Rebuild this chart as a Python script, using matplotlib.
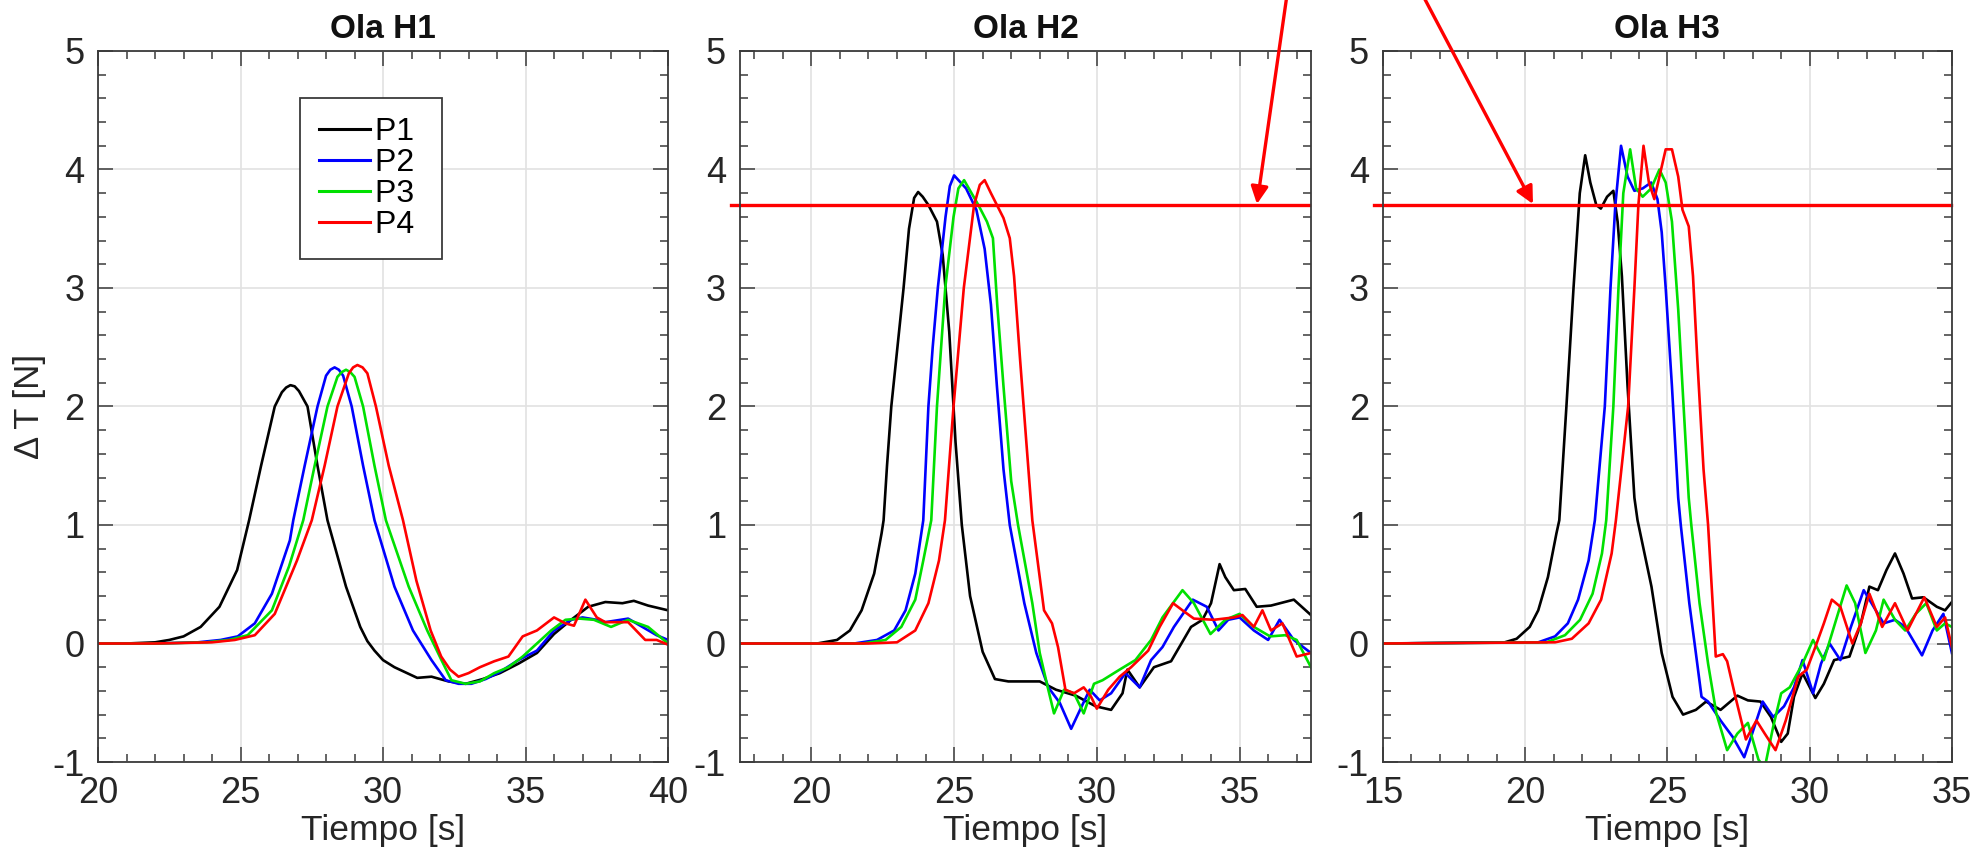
import matplotlib
matplotlib.use("Agg")
import matplotlib.pyplot as plt
import numpy as np
from matplotlib.ticker import MultipleLocator
from matplotlib.patches import FancyArrowPatch

plt.rcParams["font.family"] = ["Liberation Sans", "DejaVu Sans"]
plt.rcParams["axes.unicode_minus"] = False

# ---- data: (tiempo [s], delta T [N]) ----
h1_p1 = [(20, 0.0), (21, 0.0), (22, 0.01), (22.5, 0.03), (23.0, 0.06), (23.6, 0.14), (24.26, 0.31),
         (24.88, 0.62), (25.3, 1.04), (25.72, 1.5), (26.2, 2.0), (26.45, 2.12), (26.6, 2.16),
         (26.75, 2.18), (26.9, 2.17), (27.05, 2.13), (27.35, 2.0), (27.7, 1.5), (28.05, 1.04),
         (28.7, 0.48), (29.2, 0.14), (29.45, 0.02), (29.7, -0.06), (30.0, -0.14), (30.4, -0.2),
         (31.2, -0.29), (31.7, -0.28), (32.3, -0.32), (32.9, -0.34), (33.5, -0.3), (34.1, -0.25),
         (34.75, -0.17), (35.4, -0.08), (36.0, 0.08), (36.6, 0.2), (37.2, 0.31), (37.8, 0.35),
         (38.4, 0.34), (38.8, 0.36), (39.3, 0.32), (40, 0.28)]
h1_p2 = [(20, 0.0), (22, 0.0), (23.5, 0.01), (24.3, 0.03), (24.9, 0.06), (25.5, 0.17), (26.1, 0.42),
         (26.73, 0.87), (26.85, 1.04), (27.25, 1.5), (27.7, 2.0), (28.0, 2.26), (28.15, 2.31),
         (28.3, 2.33), (28.45, 2.31), (28.6, 2.26), (28.9, 2.0), (29.3, 1.5), (29.7, 1.04),
         (30.4, 0.48), (31.05, 0.11), (31.7, -0.14), (32.2, -0.31), (32.65, -0.34), (33.1, -0.34),
         (33.6, -0.3), (34.1, -0.24), (34.75, -0.14), (35.4, -0.06), (36.0, 0.11), (36.6, 0.2),
         (37.0, 0.22), (37.5, 0.2), (37.8, 0.18), (38.6, 0.21), (39.1, 0.14), (39.6, 0.07), (40, 0.03)]
h1_p3 = [(20, 0.0), (22, 0.0), (23.8, 0.01), (24.6, 0.03), (25.25, 0.07), (26.1, 0.28), (26.7, 0.65),
         (27.2, 1.04), (27.6, 1.5), (28.05, 2.0), (28.4, 2.25), (28.55, 2.29), (28.7, 2.31),
         (28.85, 2.29), (29.0, 2.25), (29.3, 2.0), (29.7, 1.5), (30.1, 1.04), (30.9, 0.48),
         (31.55, 0.11), (32.05, -0.14), (32.4, -0.31), (32.9, -0.34), (33.4, -0.32), (33.9, -0.25),
         (34.4, -0.2), (34.9, -0.11), (35.4, 0.0), (35.9, 0.11), (36.4, 0.2), (36.9, 0.21),
         (37.4, 0.2), (38.0, 0.14), (38.6, 0.2), (39.3, 0.14), (40, 0.0)]
h1_p4 = [(20, 0.0), (22, 0.0), (24.0, 0.01), (24.8, 0.03), (25.5, 0.07), (26.2, 0.25), (26.98, 0.7),
         (27.5, 1.04), (27.95, 1.5), (28.4, 2.0), (28.8, 2.28), (28.95, 2.33), (29.1, 2.35),
         (29.28, 2.33), (29.45, 2.28), (29.75, 2.0), (30.2, 1.5), (30.7, 1.04), (31.17, 0.53),
         (31.67, 0.11), (32.04, -0.11), (32.35, -0.22), (32.65, -0.28), (33.0, -0.25), (33.4, -0.2),
         (33.9, -0.15), (34.4, -0.11), (34.9, 0.06), (35.4, 0.11), (36.0, 0.22), (36.4, 0.17),
         (36.7, 0.15), (37.1, 0.37), (37.5, 0.22), (37.8, 0.18), (38.6, 0.18), (39.2, 0.03),
         (39.6, 0.03), (40, -0.01)]

h2_p1 = [(17.5, 0.0), (20.2, 0.0), (20.9, 0.03), (21.35, 0.11), (21.76, 0.28), (22.2, 0.59),
         (22.46, 0.93), (22.53, 1.04), (22.65, 1.5), (22.8, 2.0), (23.23, 3.0), (23.42, 3.5),
         (23.6, 3.76), (23.74, 3.81), (23.9, 3.77), (24.1, 3.7), (24.4, 3.56), (24.6, 3.28),
         (24.83, 2.63), (25.05, 1.7), (25.27, 1.0), (25.56, 0.4), (26.0, -0.07), (26.43, -0.3),
         (26.9, -0.32), (28.0, -0.32), (28.57, -0.39), (29.26, -0.44), (29.96, -0.53), (30.5, -0.56),
         (30.9, -0.42), (31.07, -0.22), (31.5, -0.37), (32.0, -0.2), (32.6, -0.15), (33.3, 0.14),
         (33.7, 0.2), (34.0, 0.34), (34.3, 0.67), (34.5, 0.56), (34.8, 0.45), (35.2, 0.46),
         (35.6, 0.31), (36.1, 0.32), (36.9, 0.37), (37.5, 0.24)]
h2_p2 = [(17.5, 0.0), (21.5, 0.0), (22.3, 0.03), (22.9, 0.11), (23.3, 0.28), (23.64, 0.59),
         (23.92, 1.04), (24.1, 2.0), (24.25, 2.5), (24.43, 3.0), (24.7, 3.6), (24.85, 3.86),
         (25.0, 3.95), (25.42, 3.84), (25.78, 3.66), (26.07, 3.33), (26.29, 2.86), (26.5, 2.17),
         (26.73, 1.47), (26.95, 1.0), (27.46, 0.34), (27.88, -0.08), (28.3, -0.37), (28.7, -0.5),
         (29.1, -0.72), (29.47, -0.53), (29.75, -0.39), (30.1, -0.48), (30.5, -0.42), (31.0, -0.25),
         (31.5, -0.37), (31.9, -0.14), (32.3, -0.03), (32.7, 0.14), (33.36, 0.37), (33.85, 0.31),
         (34.26, 0.11), (34.6, 0.2), (35.0, 0.22), (35.5, 0.11), (36.0, 0.03), (36.4, 0.2),
         (36.9, 0.03), (37.5, -0.08)]
h2_p3 = [(17.5, 0.0), (21.8, 0.0), (22.6, 0.03), (23.15, 0.14), (23.64, 0.37), (23.92, 0.7),
         (24.2, 1.04), (24.4, 2.0), (24.69, 3.0), (24.98, 3.6), (25.15, 3.84), (25.35, 3.91),
         (25.85, 3.7), (26.15, 3.56), (26.36, 3.42), (26.51, 2.86), (26.73, 2.17), (27.0, 1.37),
         (27.24, 1.0), (27.74, 0.34), (28.0, -0.08), (28.3, -0.39), (28.5, -0.59), (28.85, -0.39),
         (29.2, -0.42), (29.54, -0.59), (29.9, -0.34), (30.2, -0.31), (30.8, -0.22), (31.35, -0.14),
         (31.9, 0.03), (32.3, 0.22), (33.0, 0.45), (33.4, 0.34), (33.98, 0.08), (34.5, 0.2),
         (35.0, 0.25), (35.5, 0.14), (36.07, 0.06), (36.6, 0.07), (37.0, 0.03), (37.5, -0.2)]
h2_p4 = [(17.5, 0.0), (22.0, 0.0), (23.0, 0.01), (23.64, 0.11), (24.1, 0.34), (24.47, 0.7),
         (24.68, 1.04), (24.98, 2.0), (25.34, 3.0), (25.7, 3.7), (25.9, 3.87), (26.07, 3.91),
         (26.29, 3.8), (26.5, 3.7), (26.73, 3.59), (26.95, 3.42), (27.1, 3.1), (27.31, 2.4),
         (27.53, 1.7), (27.74, 1.04), (28.15, 0.28), (28.43, 0.17), (28.64, -0.03), (28.9, -0.39),
         (29.2, -0.42), (29.54, -0.37), (29.8, -0.45), (30.0, -0.55), (30.4, -0.39), (30.8, -0.28),
         (31.2, -0.2), (31.8, -0.06), (32.2, 0.14), (32.67, 0.34), (33.0, 0.28), (33.4, 0.21),
         (34.1, 0.2), (34.8, 0.22), (35.1, 0.24), (35.5, 0.14), (35.8, 0.28), (36.1, 0.11),
         (36.5, 0.17), (37.0, -0.11), (37.5, -0.08)]

h3_p1 = [(15, 0.0), (19.28, 0.01), (19.7, 0.04), (20.16, 0.14), (20.46, 0.28), (20.8, 0.56),
         (21.1, 0.93), (21.2, 1.04), (21.45, 2.0), (21.7, 3.0), (21.92, 3.8), (22.11, 4.12),
         (22.29, 3.89), (22.5, 3.7), (22.66, 3.67), (22.88, 3.77), (23.1, 3.82), (23.25, 3.56),
         (23.4, 3.1), (23.6, 2.17), (23.84, 1.23), (23.95, 1.04), (24.44, 0.48), (24.8, -0.08),
         (25.18, -0.45), (25.55, -0.6), (26.0, -0.56), (26.36, -0.49), (26.87, -0.56), (27.46, -0.44),
         (27.83, -0.48), (28.27, -0.49), (28.64, -0.62), (29.0, -0.83), (29.23, -0.76), (29.45, -0.45),
         (29.75, -0.25), (30.2, -0.46), (30.5, -0.34), (30.86, -0.14), (31.4, -0.11), (31.8, 0.17),
         (32.1, 0.48), (32.4, 0.45), (32.7, 0.62), (33.0, 0.76), (33.3, 0.59), (33.6, 0.38),
         (34.0, 0.39), (34.47, 0.31), (34.76, 0.28), (35.0, 0.35)]
h3_p2 = [(15, 0.0), (20.46, 0.01), (21.05, 0.06), (21.5, 0.17), (21.86, 0.37), (22.23, 0.7),
         (22.45, 1.04), (22.8, 2.0), (23.0, 3.0), (23.17, 3.7), (23.37, 4.2), (23.6, 3.94),
         (23.84, 3.82), (24.13, 3.84), (24.43, 3.89), (24.65, 3.75), (24.8, 3.47), (24.94, 3.0),
         (25.16, 2.17), (25.38, 1.23), (25.47, 1.0), (25.77, 0.34), (26.0, -0.08), (26.2, -0.45),
         (26.43, -0.49), (26.87, -0.65), (27.3, -0.79), (27.7, -0.96), (27.98, -0.76), (28.35, -0.49),
         (28.72, -0.62), (29.1, -0.53), (29.45, -0.37), (29.75, -0.14), (30.12, -0.42), (30.4, -0.17),
         (30.7, 0.0), (31.08, -0.14), (31.45, 0.14), (31.9, 0.45), (32.25, 0.31), (32.6, 0.17),
         (33.0, 0.2), (33.36, 0.14), (33.95, -0.1), (34.32, 0.11), (34.7, 0.25), (35.0, -0.08)]
h3_p3 = [(15, 0.0), (20.75, 0.01), (21.4, 0.07), (21.93, 0.2), (22.37, 0.42), (22.7, 0.76),
         (22.85, 1.04), (23.1, 2.0), (23.28, 3.0), (23.45, 3.8), (23.69, 4.17), (23.9, 3.84),
         (24.13, 3.77), (24.43, 3.84), (24.72, 4.0), (24.94, 3.89), (25.16, 3.56), (25.38, 2.82),
         (25.53, 2.17), (25.75, 1.23), (25.84, 1.0), (26.13, 0.34), (26.43, -0.17), (26.72, -0.59),
         (27.1, -0.9), (27.46, -0.76), (27.83, -0.67), (28.2, -0.98), (28.42, -1.05), (28.72, -0.7),
         (29.0, -0.42), (29.3, -0.37), (29.75, -0.17), (30.12, 0.03), (30.5, -0.14), (30.93, 0.2),
         (31.3, 0.49), (31.6, 0.34), (31.96, -0.08), (32.33, 0.11), (32.6, 0.37), (33.0, 0.2),
         (33.36, 0.11), (33.73, 0.25), (34.1, 0.34), (34.47, 0.11), (34.76, 0.17), (35.0, 0.14)]
h3_p4 = [(15, 0.0), (21.05, 0.01), (21.64, 0.04), (22.23, 0.17), (22.67, 0.37), (23.04, 0.76),
         (23.19, 1.04), (23.62, 2.0), (23.84, 3.0), (23.98, 3.7), (24.16, 4.2), (24.35, 3.89),
         (24.54, 3.75), (24.72, 3.94), (24.94, 4.17), (25.16, 4.17), (25.38, 3.94), (25.53, 3.66),
         (25.75, 3.52), (25.9, 3.1), (26.05, 2.4), (26.27, 1.47), (26.43, 1.0), (26.7, -0.11),
         (26.95, -0.09), (27.1, -0.15), (27.39, -0.45), (27.76, -0.81), (28.13, -0.65), (28.42, -0.76),
         (28.8, -0.9), (29.16, -0.65), (29.6, -0.28), (29.9, -0.22), (30.2, -0.03), (30.5, 0.17),
         (30.78, 0.37), (31.08, 0.31), (31.5, 0.0), (31.8, 0.17), (32.1, 0.42), (32.55, 0.14),
         (33.0, 0.34), (33.44, 0.11), (34.03, 0.39), (34.47, 0.14), (34.76, 0.22), (35.0, -0.03)]

titles = ["Ola H1", "Ola H2", "Ola H3"]
labels = ["P1 ", "P2 ", "P3 ", "P4 "]
xlims = [(20, 40), (17.5, 37.5), (15, 35)]
threshold = 3.7  # limite marcado en H2 y H3

panels = [[h1_p1, h1_p2, h1_p3, h1_p4],
          [h2_p1, h2_p2, h2_p3, h2_p4],
          [h3_p1, h3_p2, h3_p3, h3_p4]]
colors = ["#000000", "#0000ff", "#00e000", "#ff0000"]
axcol = "#3a3a3a"
txtcol = "#262626"

fig = plt.figure(figsize=(19.77, 8.67), dpi=100)
lefts = [0.0496, 0.3743, 0.6995]
widths = [0.2883, 0.2888, 0.2878]
axes = [fig.add_axes([l, 0.1211, w, 0.8201]) for l, w in zip(lefts, widths)]

for i, ax in enumerate(axes):
    for series, c, lab in zip(panels[i], colors, labels):
        d = np.array(series)
        ax.plot(d[:, 0], d[:, 1], color=c, lw=1.9, label=lab)
    ax.set_xlim(*xlims[i])
    ax.set_ylim(-1, 5)
    ax.xaxis.set_major_locator(MultipleLocator(5))
    ax.xaxis.set_minor_locator(MultipleLocator(1))
    ax.yaxis.set_major_locator(MultipleLocator(1))
    ax.yaxis.set_minor_locator(MultipleLocator(0.2))
    ax.grid(True, which="major", color="#e2e2e2", lw=1.2)
    ax.set_axisbelow(True)
    ax.tick_params(which="both", direction="in", top=True, right=True,
                   color=axcol, width=1.1, labelcolor=txtcol, labelsize=26, pad=10)
    ax.tick_params(which="major", length=11)
    ax.tick_params(which="minor", length=6)
    for sp in ax.spines.values():
        sp.set_color(axcol)
        sp.set_linewidth(1.3)
    ax.set_title(titles[i], fontsize=24, fontweight="bold", color="#111111", pad=9)
    ax.set_xlabel("Tiempo [s]", fontsize=25.5, color=txtcol, labelpad=2)

axes[0].set_ylabel("Δ T [N]", fontsize=25, color=txtcol, labelpad=4)
leg = axes[0].legend(loc="upper left", bbox_to_anchor=(0.354, 0.934), borderaxespad=0,
                     fontsize=23, handlelength=1.6, handletextpad=0.15, labelspacing=0.03,
                     borderpad=0.6, fancybox=False, framealpha=1, edgecolor=axcol)
leg.get_frame().set_linewidth(1.3)
for ln in leg.get_lines():
    ln.set_linewidth(2.2)

# linea de umbral en H2 y H3 (sobresale un poco a la izquierda)
axes[1].plot([17.2, 37.43], [threshold, threshold], color="#ff0000", lw=2.4, clip_on=False)
axes[2].plot([14.7, 34.97], [threshold, threshold], color="#ff0000", lw=2.4, clip_on=False)

# flechas que bajan desde fuera de la figura
for tail, head in [((0.6525, 1.03), (0.6358, 0.7647)), ((0.7140, 1.03), (0.7754, 0.7647))]:
    arr = FancyArrowPatch(tail, head, transform=fig.transFigure, arrowstyle="-|>",
                          mutation_scale=26, color="#ff0000", lw=2.4, shrinkA=0, shrinkB=0)
    fig.add_artist(arr)

fig.savefig("out.png", dpi=100)
